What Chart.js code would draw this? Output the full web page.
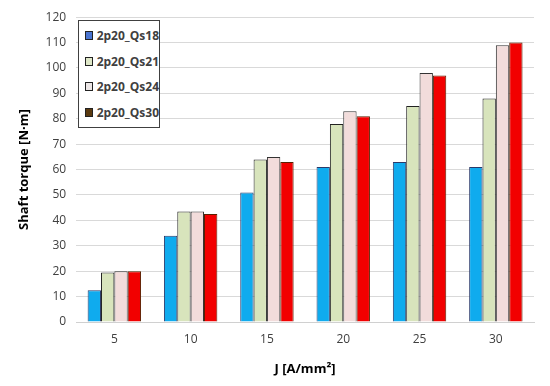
<!DOCTYPE html>
<html>
<head>
<meta charset="utf-8">
<script src="https://cdn.jsdelivr.net/npm/chart.js@4/dist/chart.umd.min.js"></script>
<style>
  html, body { margin: 0; padding: 0; background: #fff; }
  #wrap { position: relative; width: 550px; height: 386px; }
  #legend {
    position: absolute; left: 78px; top: 20px; width: 82px;
    border: 1px solid #404040; background: #fff;
    font-family: "Open Sans", "Liberation Sans", sans-serif;
    font-weight: bold; font-size: 12px; color: #404040;
    padding: 2px 0 2px 6px; box-sizing: border-box;
  }
  #legend div { display: flex; align-items: center; height: 25.5px; }
  #legend span { display: inline-block; width: 7px; height: 7px; border: 1px solid #222; margin-right: 4px; }
</style>
</head>
<body>
<div id="wrap">
  <canvas id="torqueChart" width="550" height="386"></canvas>
  <div id="legend"></div>
</div>
<script>
// Shaft torque vs current density for the four slot configurations
const currentDensity = ['5', '10', '15', '20', '25', '30'];
const qs18 = [12.5, 34, 51, 61, 63, 61];
const qs21 = [19.5, 43.5, 64, 78, 85, 88];
const qs24 = [20, 43.5, 65, 83, 98, 109];
const qs30 = [20, 42.5, 63, 81, 97, 110];

const seriesNames = ['2p20_Qs18', '2p20_Qs21', '2p20_Qs24', '2p20_Qs30'];
const fills = ['#0fabee', '#d8e4bc', '#f2dcdb', '#f20000'];
const edges = ['#2a3a6a', '#222222', '#333333', '#5a2000'];
const swatches = ['#4a74d0', '#dfe8c8', '#ece6e6', '#5a3a10'];

const ctx = document.getElementById('torqueChart');
const torqueChart = new Chart(ctx, {
  type: 'bar',
  data: {
    labels: currentDensity,
    datasets: [qs18, qs21, qs24, qs30].map((vals, i) => ({
      label: seriesNames[i],
      data: vals,
      backgroundColor: fills[i],
      borderColor: edges[i],
      borderWidth: 1,
      categoryPercentage: 0.7,
      barPercentage: 1.0
    }))
  },
  options: {
    responsive: false,
    animation: false,
    layout: { padding: { top: 15, right: 16, left: 12, bottom: 9 } },
    plugins: {
      legend: { display: false },
      tooltip: { enabled: false }
    },
    scales: {
      x: {
        grid: { display: false },
        border: { color: '#d0d0d0' },
        ticks: {
          color: '#404040',
          font: { family: 'Open Sans', size: 12 },
          padding: 2
        },
        title: {
          display: true,
          text: 'J [A/mm²]',
          color: '#000',
          font: { family: 'Open Sans', size: 13, weight: 'bold' },
          padding: { top: 13, bottom: 0 }
        }
      },
      y: {
        min: 0,
        max: 120,
        ticks: {
          stepSize: 10,
          color: '#404040',
          font: { family: 'Open Sans', size: 12 },
          padding: 10
        },
        grid: { color: '#d9d9d9', drawTicks: false },
        border: { display: false },
        title: {
          display: true,
          text: 'Shaft torque [N·m]',
          color: '#000',
          font: { family: 'Open Sans', size: 13, weight: 'bold' },
          padding: { bottom: 4 }
        }
      }
    }
  }
});

// Legend drawn as HTML box inside the plot area
const legendEl = document.getElementById('legend');
seriesNames.forEach((name, i) => {
  const row = document.createElement('div');
  const sw = document.createElement('span');
  sw.style.background = swatches[i];
  row.appendChild(sw);
  row.appendChild(document.createTextNode(name));
  legendEl.appendChild(row);
});
</script>
</body>
</html>
